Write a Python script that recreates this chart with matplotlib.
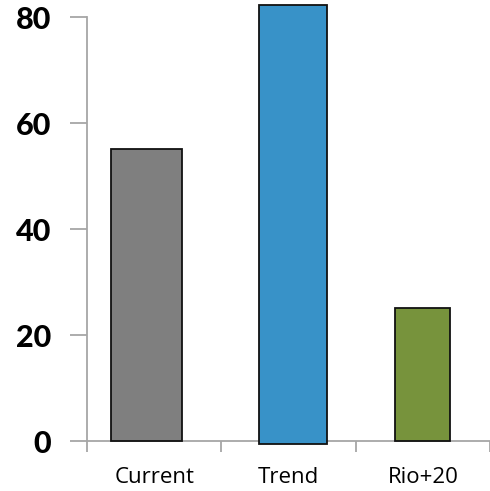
import matplotlib
matplotlib.use('Agg')
import matplotlib.pyplot as plt

# data
CATEGORIES = ['Current', 'Trend', 'Rio+20']
VALUES = [55.2, 82.4, 25.1]
BOTTOMS = [0, -0.5, 0]      # the Trend bar sits a little below the baseline
COLORS = ['#7f7f7f', '#3892c8', '#77933c']
WIDTHS = [0.53, 0.51, 0.41]
OFFSETS = [-0.055, 0.035, 0.0]
YTICKS = [0, 20, 40, 60, 80]

AXIS_GREY = '#a6a6a6'

fig = plt.figure(figsize=(4.9, 4.91), dpi=100)
ax = fig.add_axes([0.1776, 0.1018, 0.8224, 0.8626])

xs = [i + off for i, off in enumerate(OFFSETS)]
heights = [v - b for v, b in zip(VALUES, BOTTOMS)]
ax.bar(xs, heights, bottom=BOTTOMS, width=WIDTHS, color=COLORS,
       edgecolor='#111111', linewidth=1.3, clip_on=False, zorder=3)

ax.set_ylim(0, 80)
ax.set_xlim(-0.5, 2.45)

# y axis
ax.set_yticks(YTICKS)
ax.set_yticklabels([str(t) for t in YTICKS], fontsize=22,
                   fontweight='black', family='Lato')
ax.tick_params(axis='y', length=12, width=1.3, color=AXIS_GREY, pad=14)

# x axis: labels at centres, tick marks at category boundaries
ax.set_xticks(range(len(CATEGORIES)))
ax.set_xticklabels(CATEGORIES, fontsize=16, family='Open Sans')
ax.tick_params(axis='x', which='major', length=0, pad=19)
ax.set_xticks([-0.5, 0.5, 1.5, 2.5], minor=True)
ax.tick_params(axis='x', which='minor', length=8, width=1.3,
               color=AXIS_GREY, direction='out')

for side in ['top', 'right']:
    ax.spines[side].set_visible(False)
for side in ['left', 'bottom']:
    ax.spines[side].set_color(AXIS_GREY)
    ax.spines[side].set_linewidth(1.3)

fig.savefig('out.png', dpi=100)
